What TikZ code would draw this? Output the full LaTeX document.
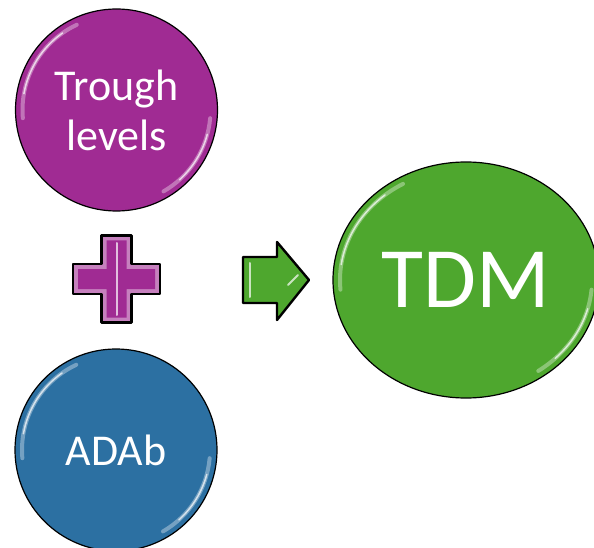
\documentclass[tikz,border=0pt]{standalone}
\usepackage{fontspec}
\setmainfont{Carlito}
\usetikzlibrary{shapes.geometric}
\definecolor{tlpurple}{RGB}{160,43,147}
\definecolor{tlblue}{RGB}{44,112,162}
\definecolor{tlgreen}{RGB}{78,167,46}

\begin{document}
\begin{tikzpicture}[
  x=1pt, y=1pt,
  bubble/.style={circle, draw=black, line width=1.2pt, text=white, align=center,
    minimum size=202pt, inner sep=0pt},
  oval/.style={ellipse, draw=black, line width=1.2pt, text=white, align=center,
    minimum width=266pt, minimum height=236pt, inner sep=0pt},
  gloss/.style={white, line width=4pt, opacity=0.35, line cap=round},
  shine/.style={white, line width=1.5pt, opacity=0.7, line cap=round},
  sign/.style={draw=black, line width=2.4pt, line join=round}
]
\useasboundingbox (0,0) rectangle (594,547);

% the three bubbles
\node[bubble, fill=tlpurple, font=\fontsize{44}{50}\selectfont] (trough) at (116.5,437) {Trough\\levels};
\node[bubble, fill=tlblue, font=\fontsize{44}{50}\selectfont] (adab) at (116,97) {ADAb};
\node[oval, fill=tlgreen, font=\fontsize{86}{90}\selectfont] (tdm) at (466,267) {TDM};

% glossy rims
\foreach \b in {trough, adab} {
  \draw[gloss] (\b.center) ++(115:94) arc[start angle=115, end angle=185, radius=94];
  \draw[shine] (\b.center) ++(125:94) arc[start angle=125, end angle=170, radius=94];
  \draw[gloss] (\b.center) ++(-5:94) arc[start angle=-5, end angle=-60, radius=94];
  \draw[shine] (\b.center) ++(-15:94) arc[start angle=-15, end angle=-48, radius=94];
}
\draw[gloss] (tdm.center) ++(120:126 and 111) arc[start angle=120, end angle=185, x radius=126, y radius=111];
\draw[shine] (tdm.center) ++(130:126 and 111) arc[start angle=130, end angle=172, x radius=126, y radius=111];
\draw[gloss] (tdm.center) ++(-5:126 and 111) arc[start angle=-5, end angle=-55, x radius=126, y radius=111];
\draw[shine] (tdm.center) ++(-15:126 and 111) arc[start angle=-15, end angle=-45, x radius=126, y radius=111];

% plus sign
\begin{scope}[shift={(116.5,268)}]
  \draw[sign, fill=tlpurple!60!white] (-15,43.5) -- (15,43.5) -- (15,15) -- (43.5,15) -- (43.5,-15)
    -- (15,-15) -- (15,-43.5) -- (-15,-43.5) -- (-15,-15) -- (-43.5,-15) -- (-43.5,15) -- (-15,15) -- cycle;
  \fill[tlpurple] (-10,38.5) -- (10,38.5) -- (10,10) -- (38.5,10) -- (38.5,-10)
    -- (10,-10) -- (10,-38.5) -- (-10,-38.5) -- (-10,-10) -- (-38.5,-10) -- (-38.5,10) -- (-10,10) -- cycle;
  \draw[shine, line width=2pt] (0,36) -- (0,-36);
\end{scope}

% arrow
\draw[sign, fill=tlgreen] (243,244) -- (277,244) -- (277,227) -- (309,267) -- (277,305)
  -- (277,290) -- (243,290) -- cycle;
\draw[shine, line width=2pt] (250,284) -- (250,250);
\draw[shine, line width=2pt] (288,262) -- (298,272);
\end{tikzpicture}
\end{document}
